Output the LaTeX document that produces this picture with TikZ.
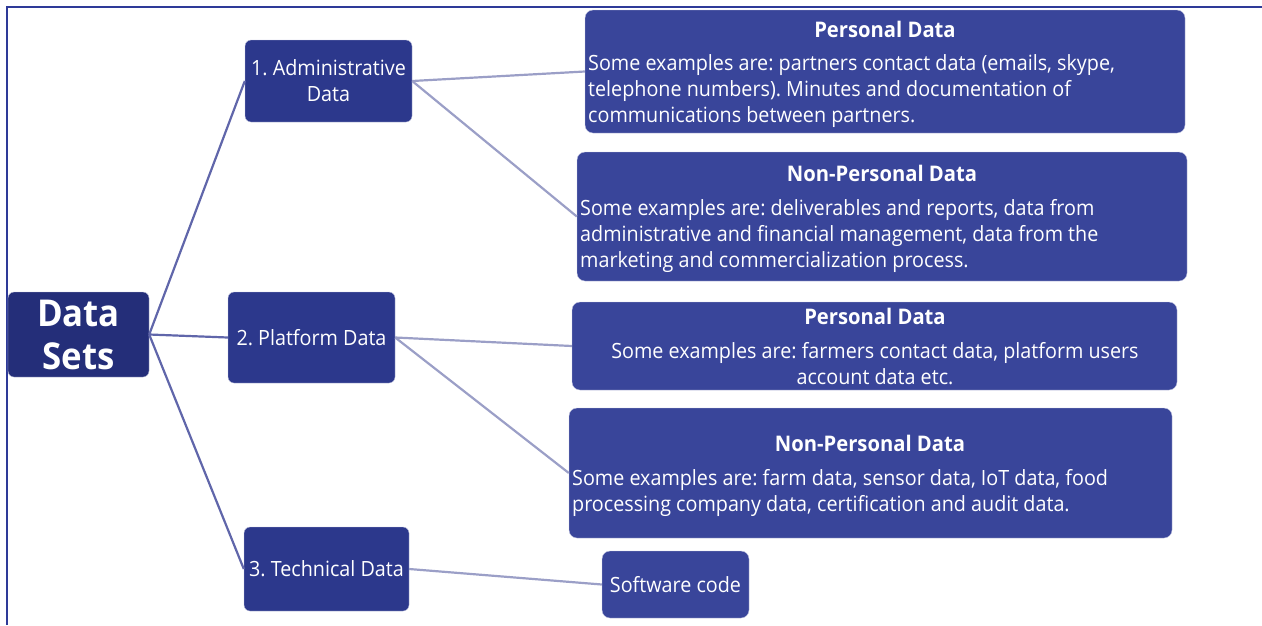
\documentclass[tikz,border=0pt]{standalone}
\usepackage{fontspec}
\setmainfont{Open Sans}[FakeStretch=0.94]
\frenchspacing
\usetikzlibrary{positioning}
\definecolor{rootfill}{RGB}{36,46,121}
\definecolor{mainfill}{RGB}{44,56,140}
\definecolor{leaffill}{RGB}{57,69,154}
\definecolor{edgedark}{RGB}{96,102,170}
\definecolor{edgelight}{RGB}{155,159,199}
\definecolor{frameblue}{RGB}{46,58,152}
\tikzset{
  rootbox/.style={fill=rootfill, draw=white!70!rootfill, rounded corners=6pt, text=white,
              align=center, inner sep=0pt, font=\fontsize{37}{43}\selectfont\bfseries},
  mainbox/.style={fill=mainfill, draw=white!70!mainfill, rounded corners=6pt, text=white,
              align=center, inner sep=0pt, font=\fontsize{21}{26}\selectfont},
  leafbox/.style={fill=leaffill, draw=white!70!leaffill, rounded corners=8pt, inner sep=0pt},
  ttl/.style={text=white, inner sep=0pt, font=\fontsize{21.5}{24}\selectfont\bfseries},
  body/.style={text=white, inner sep=0pt, font=\fontsize{21}{26}\selectfont},
  trunk/.style={edgedark, line width=2.2pt},
  twig/.style={edgelight, line width=2.2pt},
}

\begin{document}
\begin{tikzpicture}[x=1pt,y=-1pt]
  \useasboundingbox (0,0) rectangle (1262,625);
  \draw[frameblue, line width=1.5pt] (7,625) -- (7,7) -- (1262,7);

  % root and main branches
  \node[rootbox,minimum width=141pt,minimum height=85pt] (root) at (78.5,334.5) {Data\\Sets};
  \node[mainbox,minimum width=167pt,minimum height=82pt] (adm) at (328.5,81) {1. Administrative\\Data};
  \node[mainbox,minimum width=167pt,minimum height=91pt] (plat) at (311.5,337.5) {2. Platform Data};
  \node[mainbox,minimum width=165pt,minimum height=84pt] (tech) at (326.5,569) {3. Technical Data};

  % leaves
  \node[leafbox,minimum width=600pt,minimum height=123pt] (pers1) at (885,71.5) {};
  \node[leafbox,minimum width=610pt,minimum height=129pt] (npers1) at (882,216.5) {};
  \node[leafbox,minimum width=605pt,minimum height=88pt] (pers2) at (874.5,346) {};
  \node[leafbox,minimum width=603pt,minimum height=130pt] (npers2) at (870.5,473) {};
  \node[leafbox,minimum width=147pt,minimum height=67pt,text=white,
        font=\fontsize{21}{26}\selectfont] (soft) at (675.5,584.5) {Software code};

  \node[ttl] (pers1t) at (885,29) {Personal Data};
  \node[body,anchor=north west,align=left] (pers1b) at (588,54)
    {Some examples are: partners contact data (emails, skype,\\
     telephone numbers). Minutes and documentation of\\
     communications between partners.};
  \node[ttl] (npers1t) at (882,173) {Non-Personal Data};
  \node[body,anchor=north west,align=left] (npers1b) at (580,199)
    {Some examples are: deliverables and reports, data from\\
     administrative and financial management, data from the\\
     marketing and commercialization process.};
  \node[ttl] (pers2t) at (875,316) {Personal Data};
  \node[body,anchor=north,align=center] (pers2b) at (875,342)
    {Some examples are: farmers contact data, platform users\\
     account data etc.};
  \node[ttl] (npers2t) at (870,443) {Non-Personal Data};
  \node[body,anchor=north west,align=left] (npers2b) at (572,469)
    {Some examples are: farm data, sensor data, IoT data, food\\
     processing company data, certification and audit data.};

  % connectors
  \draw[trunk] (root.east) -- (adm.west);
  \draw[trunk] (root.east) -- (plat.west);
  \draw[trunk] (root.east) -- (tech.west);
  \draw[twig] (adm.east) -- (pers1.west);
  \draw[twig] (adm.east) -- (npers1.west);
  \draw[twig] (plat.east) -- (pers2.west);
  \draw[twig] (plat.east) -- (npers2.west);
  \draw[twig] (tech.east) -- (soft.west);
\end{tikzpicture}
\end{document}
